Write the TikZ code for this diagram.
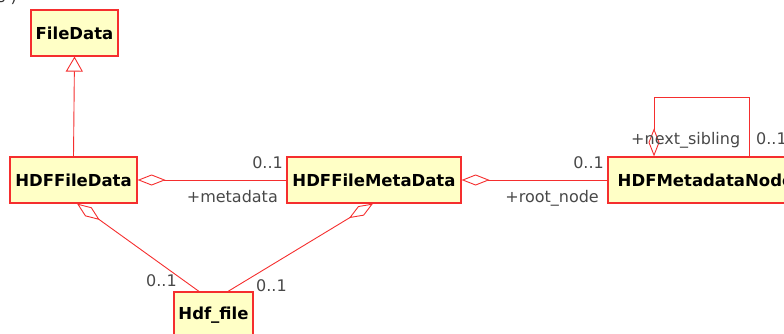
\documentclass[tikz,border=0pt]{standalone}
\usepackage{fontspec}
\setmainfont{DejaVu Sans}
\usetikzlibrary{arrows.meta}
\definecolor{umlred}{HTML}{F52E2E}
\definecolor{umlfill}{HTML}{FFFFC6}
\definecolor{umltext}{HTML}{484848}
\tikzset{
  classbox/.style={draw=umlred, fill=umlfill, line width=1.2pt, minimum height=46pt,
    inner sep=0pt, font=\fontsize{16.5}{19}\selectfont\bfseries, text=black},
  link/.style={draw=umlred, line width=0.9pt},
  aggr/.style={link, {Diamond[open, length=28pt, width=11pt, line width=0.9pt]}-},
  gen/.style={link, -{Triangle[open, length=15pt, width=17pt, line width=0.9pt]}},
  role/.style={font=\fontsize{16}{19}\selectfont, text=umltext, inner sep=0pt}
}
\begin{document}
\begin{tikzpicture}[x=1pt, y=-1pt]
  \useasboundingbox (0,0) rectangle (784,334);

  % cut-off caption above the diagram
  \node[role, text=black!80, anchor=base west] (caption) at (-3,3) {s )};

  % classes
  \node[classbox, minimum width=87pt]  (FileData)         at (74.5,33)  {FileData};
  \node[classbox, minimum width=127pt] (HDFFileData)      at (73.5,180) {HDFFileData};
  \node[classbox, minimum width=174pt] (HDFFileMetaData)  at (374,180)  {HDFFileMetaData};
  \node[classbox, minimum width=195pt] (HDFMetadataNode)  at (705.5,180){HDFMetadataNode};
  \node[classbox, minimum width=79pt]  (Hdf_file)         at (213.5,315){Hdf\_file};

  % generalization
  \draw[gen] (HDFFileData.north) -- (FileData.south);

  % aggregations
  \draw[aggr] (HDFFileData.east) -- (HDFFileMetaData.west);
  \draw[aggr] (HDFFileMetaData.east) -- (HDFMetadataNode.west);
  \draw[aggr] ([xshift=3.5pt]HDFFileData.south) -- ([xshift=-14.5pt]Hdf_file.north);
  \draw[aggr] ([xshift=-1pt]HDFFileMetaData.south) -- ([xshift=14.5pt]Hdf_file.north);
  \draw[aggr] ([xshift=-51.5pt]HDFMetadataNode.north) -- ++(0,-59) -| ([xshift=43.5pt]HDFMetadataNode.north);

  % role names and multiplicities
  \node[role, anchor=base east] (m1) at (283,168) {0..1};
  \node[role, anchor=base east] (r1) at (278,202) {+metadata};
  \node[role, anchor=base east] (m2) at (604,168) {0..1};
  \node[role, anchor=base east] (r2) at (599,202) {+root\_node};
  \node[role, anchor=base west] (r3) at (631,145) {+next\_sibling};
  \node[role, anchor=base west] (m3) at (756,145) {0..1};
  \node[role, anchor=base west] (m4) at (146,286) {0..1};
  \node[role, anchor=base west] (m5) at (256,291) {0..1};
\end{tikzpicture}
\end{document}
